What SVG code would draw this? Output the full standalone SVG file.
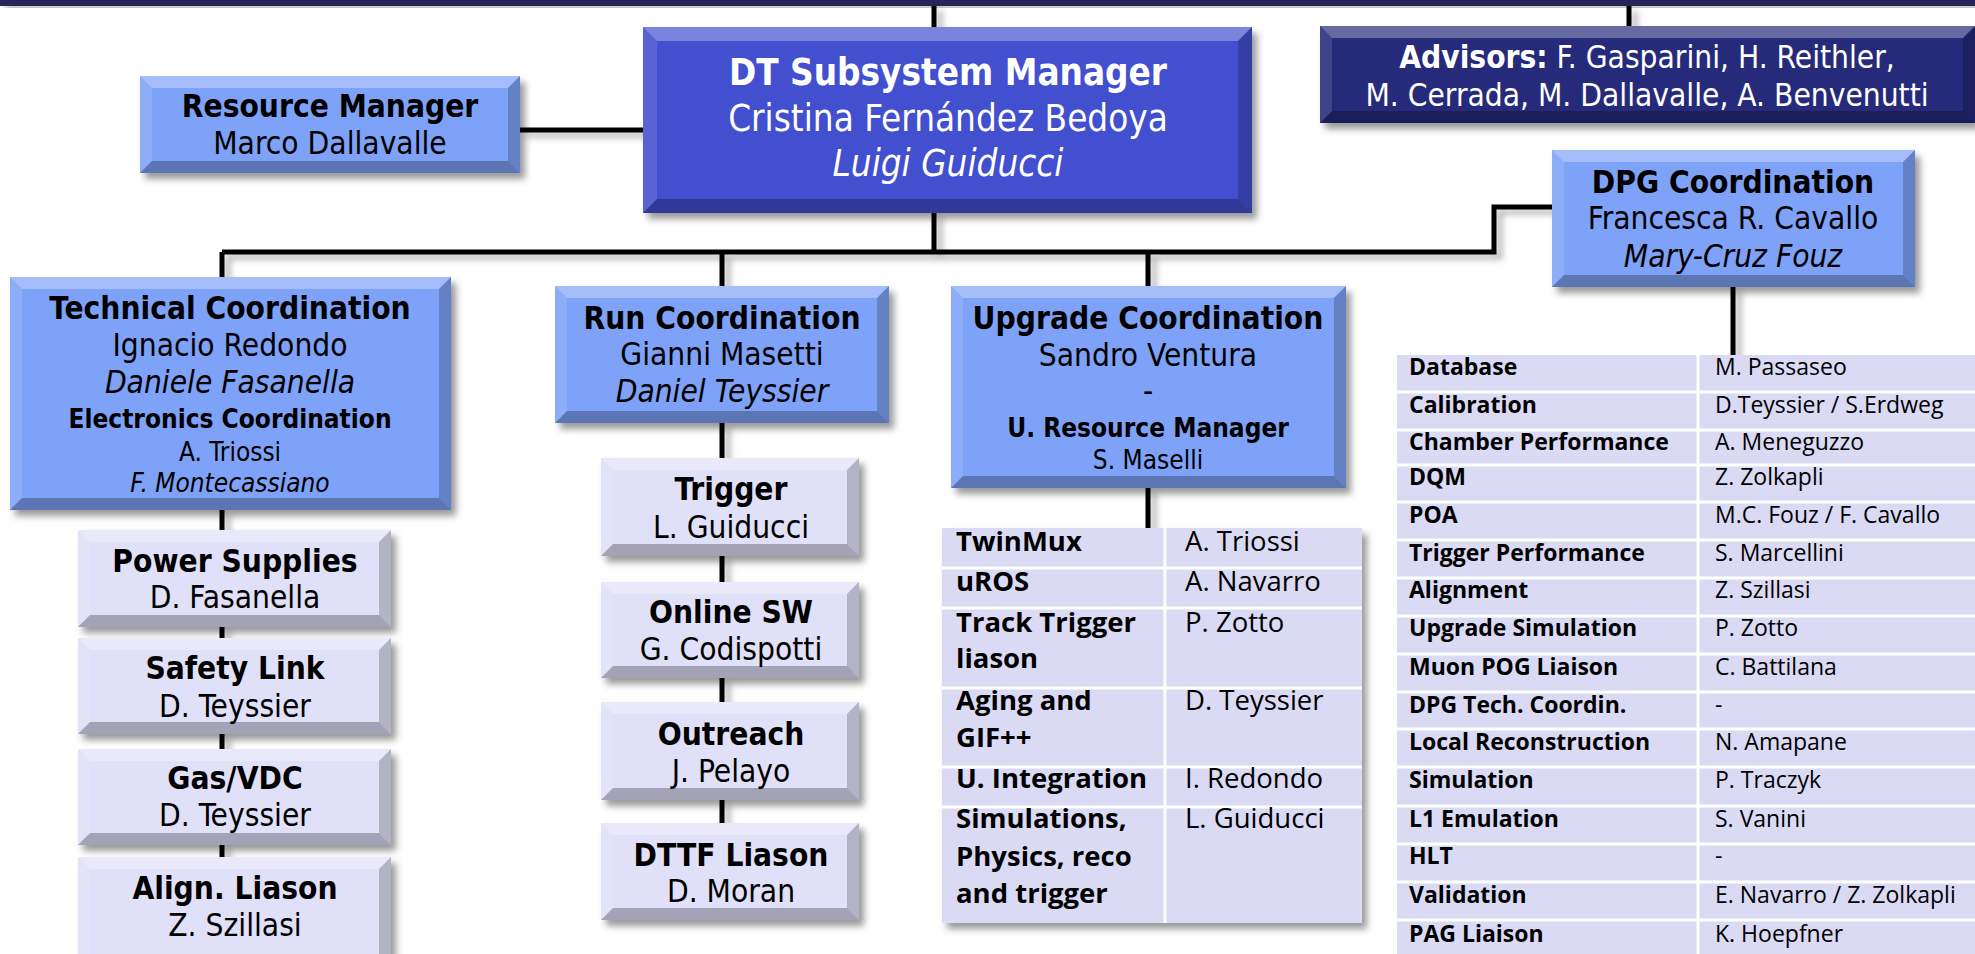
<svg xmlns="http://www.w3.org/2000/svg" width="1975" height="954" viewBox="0 0 1975 954">
<defs>
<filter id="sh" x="-10%" y="-10%" width="130%" height="140%">
<feDropShadow dx="5" dy="6" stdDeviation="3.5" flood-color="#000" flood-opacity="0.4"/>
</filter>
<filter id="lsh" x="-20%" y="-20%" width="140%" height="140%">
<feDropShadow dx="6" dy="5" stdDeviation="3" flood-color="#000" flood-opacity="0.3"/>
</filter>
<style>
.mid{fill:#7ea2f8}
.lt{fill:#e0e0f8}
.dt{fill:#4350cf}
.adv{fill:#27297a}
.bt{fill:#fff;opacity:.3}
.bl{fill:#fff;opacity:.12}
.br{fill:#000;opacity:.2}
.bb{fill:#000;opacity:.27}
.t{font-family:"DejaVu Sans",Verdana,sans-serif;font-stretch:condensed;font-size:31.4px;text-anchor:middle;fill:#000}
.b{font-weight:bold}
.i{font-style:italic}
.w{fill:#fff}
.s{font-size:26px}
.big{font-size:36.5px}
.tu{font-family:"Open Sans","Noto Sans",sans-serif;font-size:27.5px;fill:#000}
.td{font-family:"Open Sans","Noto Sans",sans-serif;font-size:23px;fill:#000}
.cn{fill:none;stroke:#000;stroke-width:5}
.tab{fill:#dadaf4}
.sep{stroke:#fff;stroke-width:3;fill:none}
</style>
</defs>
<rect width="1975" height="954" fill="#fff"/>
<rect id="topband" x="0" y="0" width="1975" height="6" fill="#26285f" filter="url(#sh)"/>

<g id="connectors" filter="url(#lsh)">
<path class="cn" d="M934,6V27M1629,6V26M520,130H643M934,213V252M222,252H1494V207H1552M222,252V277M722,252V286M1148,252V286"/>
<path class="cn" d="M222,510V530M222,627V638M222,734V749M222,845V857"/>
<path class="cn" d="M722,423V458M722,556V582M722,678V702M722,800V823"/>
<path class="cn" d="M1148,488V528M1733,287V355"/>
</g>

<g id="resource-manager">
<rect class="mid" x="140" y="76" width="380" height="97" filter="url(#sh)"/>
<polygon class="bt" points="140,76 520,76 508,88 152,88"/>
<polygon class="bl" points="140,76 152,88 152,161 140,173"/>
<polygon class="br" points="520,76 520,173 508,161 508,88"/>
<polygon class="bb" points="140,173 152,161 508,161 520,173"/>
<text class="t b" x="330" y="117">Resource Manager</text>
<text class="t" x="330" y="154">Marco Dallavalle</text>
</g>

<g id="dt-manager">
<rect class="dt" x="643" y="27" width="609" height="186" filter="url(#sh)"/>
<polygon class="bt" points="643,27 1252,27 1238,41 657,41"/>
<polygon class="bl" points="643,27 657,41 657,199 643,213"/>
<polygon class="br" points="1252,27 1252,213 1238,199 1238,41"/>
<polygon class="bb" points="643,213 657,199 1238,199 1252,213"/>
<text class="t big b w" x="948" y="85">DT Subsystem Manager</text>
<text class="t big w" x="948" y="131">Cristina Fernández Bedoya</text>
<text class="t big i w" x="948" y="176">Luigi Guiducci</text>
</g>

<g id="advisors">
<rect class="adv" x="1320" y="26" width="655" height="97" filter="url(#sh)"/>
<polygon class="bt" points="1320,26 1975,26 1963,38 1332,38"/>
<polygon class="bl" points="1320,26 1332,38 1332,111 1320,123"/>
<polygon class="br" points="1975,26 1975,123 1963,111 1963,38"/>
<polygon class="bb" points="1320,123 1332,111 1963,111 1975,123"/>
<text class="t w" x="1647" y="68"><tspan class="b">Advisors:</tspan> F. Gasparini, H. Reithler,</text>
<text class="t w" x="1647" y="106">M. Cerrada, M. Dallavalle, A. Benvenutti</text>
</g>

<g id="dpg-coordination">
<rect class="mid" x="1552" y="150" width="363" height="137" filter="url(#sh)"/>
<polygon class="bt" points="1552,150 1915,150 1903,162 1564,162"/>
<polygon class="bl" points="1552,150 1564,162 1564,275 1552,287"/>
<polygon class="br" points="1915,150 1915,287 1903,275 1903,162"/>
<polygon class="bb" points="1552,287 1564,275 1903,275 1915,287"/>
<text class="t b" x="1733" y="193">DPG Coordination</text>
<text class="t" x="1733" y="229">Francesca R. Cavallo</text>
<text class="t i" x="1733" y="267">Mary-Cruz Fouz</text>
</g>

<g id="technical-coordination">
<rect class="mid" x="10" y="277" width="441" height="233" filter="url(#sh)"/>
<polygon class="bt" points="10,277 451,277 439,289 22,289"/>
<polygon class="bl" points="10,277 22,289 22,498 10,510"/>
<polygon class="br" points="451,277 451,510 439,498 439,289"/>
<polygon class="bb" points="10,510 22,498 439,498 451,510"/>
<text class="t b" x="230" y="319">Technical Coordination</text>
<text class="t" x="230" y="356">Ignacio Redondo</text>
<text class="t i" x="230" y="393">Daniele Fasanella</text>
<text class="t s b" x="230" y="428">Electronics Coordination</text>
<text class="t s" x="230" y="461">A. Triossi</text>
<text class="t s i" x="230" y="492">F. Montecassiano</text>
</g>

<g id="run-coordination">
<rect class="mid" x="555" y="286" width="334" height="137" filter="url(#sh)"/>
<polygon class="bt" points="555,286 889,286 877,298 567,298"/>
<polygon class="bl" points="555,286 567,298 567,411 555,423"/>
<polygon class="br" points="889,286 889,423 877,411 877,298"/>
<polygon class="bb" points="555,423 567,411 877,411 889,423"/>
<text class="t b" x="722" y="329">Run Coordination</text>
<text class="t" x="722" y="365">Gianni Masetti</text>
<text class="t i" x="722" y="402">Daniel Teyssier</text>
</g>

<g id="upgrade-coordination">
<rect class="mid" x="951" y="286" width="395" height="202" filter="url(#sh)"/>
<polygon class="bt" points="951,286 1346,286 1334,298 963,298"/>
<polygon class="bl" points="951,286 963,298 963,476 951,488"/>
<polygon class="br" points="1346,286 1346,488 1334,476 1334,298"/>
<polygon class="bb" points="951,488 963,476 1334,476 1346,488"/>
<text class="t b" x="1148" y="329">Upgrade Coordination</text>
<text class="t" x="1148" y="366">Sandro Ventura</text>
<text class="t" x="1148" y="402">-</text>
<text class="t s b" x="1148" y="437">U. Resource Manager</text>
<text class="t s" x="1148" y="469">S. Maselli</text>
</g>

<g id="power-supplies">
<rect class="lt" x="78" y="530" width="313" height="97" filter="url(#sh)"/>
<polygon class="bt" points="78,530 391,530 379,542 90,542"/>
<polygon class="bl" points="78,530 90,542 90,615 78,627"/>
<polygon class="br" points="391,530 391,627 379,615 379,542"/>
<polygon class="bb" points="78,627 90,615 379,615 391,627"/>
<text class="t b" x="235" y="572">Power Supplies</text>
<text class="t" x="235" y="608">D. Fasanella</text>
</g>

<g id="safety-link">
<rect class="lt" x="78" y="638" width="313" height="96" filter="url(#sh)"/>
<polygon class="bt" points="78,638 391,638 379,650 90,650"/>
<polygon class="bl" points="78,638 90,650 90,722 78,734"/>
<polygon class="br" points="391,638 391,734 379,722 379,650"/>
<polygon class="bb" points="78,734 90,722 379,722 391,734"/>
<text class="t b" x="235" y="679">Safety Link</text>
<text class="t" x="235" y="717">D. Teyssier</text>
</g>

<g id="gas-vdc">
<rect class="lt" x="78" y="749" width="313" height="96" filter="url(#sh)"/>
<polygon class="bt" points="78,749 391,749 379,761 90,761"/>
<polygon class="bl" points="78,749 90,761 90,833 78,845"/>
<polygon class="br" points="391,749 391,845 379,833 379,761"/>
<polygon class="bb" points="78,845 90,833 379,833 391,845"/>
<text class="t b" x="235" y="789">Gas/VDC</text>
<text class="t" x="235" y="826">D. Teyssier</text>
</g>

<g id="align-liason">
<rect class="lt" x="78" y="857" width="313" height="109" filter="url(#sh)"/>
<polygon class="bt" points="78,857 391,857 379,869 90,869"/>
<polygon class="bl" points="78,857 90,869 90,954 78,966"/>
<polygon class="br" points="391,857 391,966 379,954 379,869"/>
<text class="t b" x="235" y="899">Align. Liason</text>
<text class="t" x="235" y="936">Z. Szillasi</text>
</g>

<g id="trigger">
<rect class="lt" x="601" y="458" width="258" height="98" filter="url(#sh)"/>
<polygon class="bt" points="601,458 859,458 847,470 613,470"/>
<polygon class="bl" points="601,458 613,470 613,544 601,556"/>
<polygon class="br" points="859,458 859,556 847,544 847,470"/>
<polygon class="bb" points="601,556 613,544 847,544 859,556"/>
<text class="t b" x="731" y="500">Trigger</text>
<text class="t" x="731" y="538">L. Guiducci</text>
</g>

<g id="online-sw">
<rect class="lt" x="601" y="582" width="258" height="96" filter="url(#sh)"/>
<polygon class="bt" points="601,582 859,582 847,594 613,594"/>
<polygon class="bl" points="601,582 613,594 613,666 601,678"/>
<polygon class="br" points="859,582 859,678 847,666 847,594"/>
<polygon class="bb" points="601,678 613,666 847,666 859,678"/>
<text class="t b" x="731" y="623">Online SW</text>
<text class="t" x="731" y="660">G. Codispotti</text>
</g>

<g id="outreach">
<rect class="lt" x="601" y="702" width="258" height="98" filter="url(#sh)"/>
<polygon class="bt" points="601,702 859,702 847,714 613,714"/>
<polygon class="bl" points="601,702 613,714 613,788 601,800"/>
<polygon class="br" points="859,702 859,800 847,788 847,714"/>
<polygon class="bb" points="601,800 613,788 847,788 859,800"/>
<text class="t b" x="731" y="745">Outreach</text>
<text class="t" x="731" y="782">J. Pelayo</text>
</g>

<g id="dttf-liason">
<rect class="lt" x="601" y="823" width="258" height="97" filter="url(#sh)"/>
<polygon class="bt" points="601,823 859,823 847,835 613,835"/>
<polygon class="bl" points="601,823 613,835 613,908 601,920"/>
<polygon class="br" points="859,823 859,920 847,908 847,835"/>
<polygon class="bb" points="601,920 613,908 847,908 859,920"/>
<text class="t b" x="731" y="866">DTTF Liason</text>
<text class="t" x="731" y="902">D. Moran</text>
</g>

<g id="upgrade-table">
<rect class="tab" x="942" y="528" width="420" height="395" filter="url(#sh)"/>
<path class="sep" d="M942,568H1362M942,608H1362M942,688H1362M942,767H1362M942,807H1362M1165,528V923"/>
<g class="tu" font-weight="bold">
<text x="956" y="551">TwinMux</text>
<text x="956" y="591">uROS</text>
<text x="956" y="632">Track Trigger</text>
<text x="956" y="668">liason</text>
<text x="956" y="710">Aging and</text>
<text x="956" y="747">GIF++</text>
<text x="956" y="788">U. Integration</text>
<text x="956" y="828">Simulations,</text>
<text x="956" y="866">Physics, reco</text>
<text x="956" y="903">and trigger</text>
</g>
<g class="tu">
<text x="1185" y="551">A. Triossi</text>
<text x="1185" y="591">A. Navarro</text>
<text x="1185" y="632">P. Zotto</text>
<text x="1185" y="710">D. Teyssier</text>
<text x="1185" y="788">I. Redondo</text>
<text x="1185" y="828">L. Guiducci</text>
</g>
</g>

<g id="dpg-table">
<rect class="tab" x="1397" y="355" width="590" height="610"/>
<path class="sep" d="M1397,392H1975M1397,430H1975M1397,465H1975M1397,502H1975M1397,540H1975M1397,578H1975M1397,616H1975M1397,654H1975M1397,692H1975M1397,729H1975M1397,767H1975M1397,806H1975M1397,844H1975M1397,882H1975M1397,920H1975M1698,355V954"/>
<g class="td" font-weight="bold">
<text x="1409" y="375">Database</text>
<text x="1409" y="413">Calibration</text>
<text x="1409" y="450">Chamber Performance</text>
<text x="1409" y="485">DQM</text>
<text x="1409" y="523">POA</text>
<text x="1409" y="561">Trigger Performance</text>
<text x="1409" y="598">Alignment</text>
<text x="1409" y="636">Upgrade Simulation</text>
<text x="1409" y="675">Muon POG Liaison</text>
<text x="1409" y="713">DPG Tech. Coordin.</text>
<text x="1409" y="750">Local Reconstruction</text>
<text x="1409" y="788">Simulation</text>
<text x="1409" y="827">L1 Emulation</text>
<text x="1409" y="864">HLT</text>
<text x="1409" y="903">Validation</text>
<text x="1409" y="942">PAG Liaison</text>
</g>
<g class="td">
<text x="1715" y="375">M. Passaseo</text>
<text x="1715" y="413">D.Teyssier / S.Erdweg</text>
<text x="1715" y="450">A. Meneguzzo</text>
<text x="1715" y="485">Z. Zolkapli</text>
<text x="1715" y="523">M.C. Fouz / F. Cavallo</text>
<text x="1715" y="561">S. Marcellini</text>
<text x="1715" y="598">Z. Szillasi</text>
<text x="1715" y="636">P. Zotto</text>
<text x="1715" y="675">C. Battilana</text>
<text x="1715" y="713">-</text>
<text x="1715" y="750">N. Amapane</text>
<text x="1715" y="788">P. Traczyk</text>
<text x="1715" y="827">S. Vanini</text>
<text x="1715" y="864">-</text>
<text x="1715" y="903">E. Navarro / Z. Zolkapli</text>
<text x="1715" y="942">K. Hoepfner</text>
</g>
</g>
</svg>
